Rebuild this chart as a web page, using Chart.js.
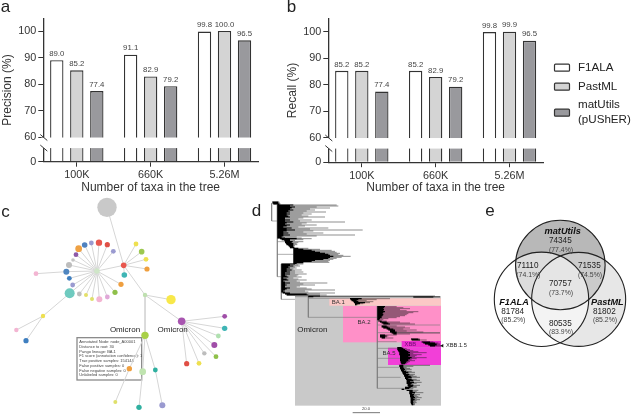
<!DOCTYPE html>
<html>
<head>
<meta charset="utf-8">
<title>Ancestral lineage annotation benchmark</title>
<script src="https://cdn.jsdelivr.net/npm/chart.js@4/dist/chart.umd.js"></script>
<style>
  html, body { margin: 0; padding: 0; background: #fff; }
  #page { position: relative; width: 633px; height: 414px; overflow: hidden; }
  /* the source figure is a soft, low resolution scan */
  canvas { position: absolute; filter: blur(0.3px); }
</style>
</head>
<body>
<div id="page">
  <canvas id="panelA" width="285" height="195" style="left:0;top:0"></canvas>
  <canvas id="panelB" width="348" height="195" style="left:285px;top:0"></canvas>
  <canvas id="panelC" width="240" height="219" style="left:0;top:195px"></canvas>
  <canvas id="panelE" width="183" height="200" style="left:450px;top:200px"></canvas>
  <canvas id="panelD" width="240" height="219" style="left:240px;top:195px"></canvas>
</div>
<script>
const sans = "'Liberation Sans', Arial, sans-serif";
const ink = "#333";

// panels a and b
const taxa = ["100K", "660K", "5.26M"];
const seriesNames = ["F1ALA", "PastML", "matUtils\n(pUShER)"];
const seriesFill = ["#ffffff", "#d4d4d4", "#99999d"];
const precisionF1 = [89.0, 91.1, 99.8];
const precisionPast = [85.2, 82.9, 100.0];
const precisionMat = [77.4, 79.2, 96.5];
const recallF1 = [85.2, 85.2, 99.8];
const recallPast = [85.2, 82.9, 99.9];
const recallMat = [77.4, 79.2, 96.5];
const yTicks = [0, 60, 70, 80, 90, 100];
const breakAt = 60;
const breakBand = [33.5, 59.5];

// panel c: nodes of the lineage graph, parent is an index into the same arrays
const nodeX = [321, 371, 291, 435, 373, 408, 425, 438, 441, 297, 322, 274, 254, 236, 228, 219, 207, 199, 208, 218, 209, 238, 258, 276, 298, 322, 345, 363, 340, 108, 129, 49, 78, 513, 545, 674, 674, 655, 643, 613, 648, 597, 560, 435, 388, 428, 466, 346, 417, 487];
const nodeY = [37, 211, 228, 300, 240, 147, 170, 193, 222, 143, 149, 144, 150, 161, 179, 195, 210, 230, 250, 270, 295, 297, 300, 312, 313, 306, 292, 268, 169, 236, 363, 405, 437, 314, 379, 364, 400, 423, 450, 475, 485, 505, 506, 421, 521, 530, 525, 621, 637, 631];
const nodeParent = [-1, 0, 1, 1, 1, 1, 1, 1, 1, 2, 2, 2, 2, 2, 2, 2, 2, 2, 2, 2, 2, 2, 2, 2, 2, 2, 2, 2, 2, 17, 20, 30, 30, 3, 3, 34, 34, 34, 34, 34, 34, 34, 34, 3, 43, 43, 43, 44, 45, 46];
const nodeRadius = [9.7, 2.8, 2.8, 2.2, 2.8, 2.4, 2.8, 2.4, 2.6, 3.2, 2.6, 2.4, 2.8, 3.4, 2.4, 1.8, 3, 3, 2.4, 2.4, 5, 2.4, 2, 2, 3, 2.4, 2.6, 2.6, 2.4, 2.4, 2.2, 2.2, 2.6, 4.7, 3.8, 2.4, 2.7, 2.4, 3, 2.2, 2.4, 2.4, 2.6, 3.7, 2.7, 3.4, 2.4, 2, 2.7, 3];
const nodeColor = ["#c9c9c9", "#e8574e", "#cfe6c8", "#bfe0b0", "#3fb5b5", "#eee050", "#9cc850", "#eee050", "#ef9f3f", "#e8574e", "#e04f45", "#9a9ad0", "#4f82c0", "#efa144", "#8e5aa8", "#c4c4c4", "#bdbdbd", "#4f86c0", "#3f7fc0", "#9a9ad0", "#6fcabf", "#bdbdbd", "#e4e06a", "#dfe06a", "#f3b5d2", "#e0a8d8", "#8fc04a", "#ef9f3f", "#9a9ad0", "#f3b5d2", "#eee050", "#f3b5d2", "#3f7fc0", "#f8e84a", "#a855b0", "#a04ea8", "#3fb5b5", "#b0e0b0", "#a04ea8", "#bdbdbd", "#8fc04a", "#eee050", "#e04f45", "#a8d048", "#ef9f3f", "#c0e4b0", "#2fb0a0", "#dfe06a", "#2fb0a0", "#9a9ad0"];
const nodeNote = [
  "Annotated Node: node_A00001",
  "Distance to root: 30",
  "Pango lineage: BA.1",
  "F1 score (annotation confidence): 1",
  "True positive samples: 154144",
  "False positive samples: 0",
  "False negative samples: 0",
  "Unlabeled samples: 0"
];

// panel d: tree rows are [y, branch start, end of the dense part, tip]
const treeStub = [[21, 97, 115, 118], [24, 98, 115, 120], [27, 100, 118, 122]];
const treeTop = [[30, 112, 160, 290], [33, 112, 150, 295], [36, 112, 165, 230], [39, 112, 155, 270], [42, 112, 150, 210], [45, 112, 160, 225], [48, 112, 145, 200], [51, 112, 150, 258], [54, 112, 140, 190], [57, 112, 150, 215], [60, 112, 140, 185], [63, 112, 145, 205], [66, 112, 150, 255], [69, 112, 135, 190], [72, 112, 135, 175], [75, 112, 150, 215], [78, 112, 135, 180], [81, 112, 160, 315], [84, 112, 140, 200], [87, 112, 135, 185], [90, 112, 150, 230], [93, 112, 140, 195], [96, 112, 130, 175], [99, 112, 155, 265], [102, 112, 140, 210], [105, 112, 165, 368], [108, 112, 140, 220], [111, 112, 130, 190], [114, 112, 145, 250], [117, 112, 130, 200], [120, 112, 150, 345], [123, 112, 130, 230], [126, 112, 125, 170], [129, 112, 135, 185]];
const treeMid = [[131, 120, 170, 215], [134, 125, 150, 190], [137, 133, 150, 165], [140, 135, 158, 190], [143, 135, 155, 175], [146, 138, 160, 170], [149, 140, 160, 172], [152, 145, 160, 165], [155, 148, 160, 163], [158, 150, 162, 165]];
const treeBig = [[160, 160, 175, 205], [163, 160, 190, 240], [166, 160, 215, 275], [169, 160, 225, 285], [172, 160, 240, 290], [175, 160, 255, 300], [178, 160, 265, 295], [181, 160, 270, 310], [184, 160, 280, 332], [187, 160, 270, 305], [190, 160, 265, 290], [193, 160, 250, 280], [196, 160, 225, 270], [199, 160, 215, 265], [202, 160, 190, 268], [205, 160, 170, 190]];
const treeLow = [[207, 124, 165, 190], [210, 124, 150, 175], [213, 124, 160, 180], [216, 124, 145, 165], [219, 124, 150, 170], [222, 124, 140, 160], [225, 124, 155, 185], [228, 124, 140, 165], [231, 124, 150, 190], [234, 124, 135, 165], [237, 124, 150, 200], [240, 124, 135, 175], [243, 124, 140, 170], [246, 124, 145, 185], [249, 124, 130, 160], [252, 124, 140, 175], [255, 124, 145, 200], [258, 124, 130, 170], [261, 124, 135, 180], [264, 124, 150, 262], [267, 124, 135, 190], [270, 124, 140, 225], [273, 124, 135, 180], [276, 124, 135, 170], [279, 124, 150, 200], [282, 124, 140, 215], [285, 124, 135, 285], [288, 124, 130, 195], [291, 124, 135, 205], [294, 128, 150, 285], [297, 135, 200, 240], [300, 140, 205, 260], [303, 205, 240, 585], [305, 205, 220, 600], [306, 520, 580, 600]];
const treeBA1 = [[311, 330, 365, 450], [314, 332, 355, 410], [317, 335, 350, 380], [320, 340, 355, 400], [323, 342, 375, 390], [326, 345, 360, 370], [329, 345, 350, 355]];
const treeBA2 = [[335, 412, 435, 470], [338, 412, 432, 490], [341, 412, 430, 510], [344, 412, 432, 480], [347, 412, 430, 500], [350, 412, 435, 535], [353, 412, 430, 520], [356, 412, 428, 505], [359, 412, 430, 500], [362, 412, 428, 495], [365, 412, 425, 480], [368, 412, 425, 470], [371, 412, 420, 445], [374, 412, 418, 430], [378, 415, 425, 440], [381, 420, 440, 480], [384, 425, 445, 510], [387, 430, 450, 525], [393, 425, 440, 470], [396, 425, 445, 495], [399, 430, 450, 510], [402, 440, 460, 490], [405, 445, 465, 530], [408, 450, 465, 500], [411, 450, 470, 550], [414, 455, 470, 600], [417, 460, 470, 510], [420, 420, 435, 470], [423, 420, 440, 445], [426, 420, 435, 440], [429, 425, 435, 460]];
const treeXBB = [[432, 513, 535, 540], [435, 515, 540, 560], [441, 545, 570, 580], [444, 550, 585, 595], [447, 555, 590, 600], [450, 565, 590, 600], [453, 570, 585, 605]];
const treeBA5 = [[458, 472, 485, 490], [461, 472, 490, 500], [464, 472, 495, 510], [467, 474, 500, 520], [470, 476, 505, 535], [473, 478, 510, 560], [476, 478, 505, 520], [479, 478, 510, 545], [482, 480, 510, 530], [485, 480, 505, 525], [488, 480, 515, 560], [491, 480, 510, 530], [494, 480, 505, 515], [497, 480, 505, 525], [500, 482, 500, 510], [503, 482, 498, 505], [506, 484, 495, 500]];
const treeTail = [[511, 478, 490, 570], [514, 478, 490, 520], [517, 480, 490, 500], [520, 480, 492, 510], [523, 482, 495, 515], [526, 483, 492, 500], [529, 485, 498, 515], [532, 487, 505, 525], [535, 488, 498, 505], [538, 490, 508, 525], [541, 492, 505, 520], [544, 493, 512, 530], [547, 495, 515, 540], [550, 495, 505, 515], [553, 498, 515, 530], [556, 500, 520, 540], [559, 500, 510, 520], [562, 500, 522, 545], [565, 500, 515, 530], [568, 503, 512, 520], [571, 503, 520, 540], [574, 505, 518, 530], [577, 495, 512, 530], [580, 495, 508, 520], [583, 485, 492, 500], [586, 500, 518, 535], [590, 508, 518, 530], [593, 508, 525, 550], [596, 508, 516, 525], [599, 510, 522, 540], [602, 510, 520, 530], [605, 510, 522, 535], [608, 512, 525, 545], [611, 512, 520, 530], [614, 512, 524, 540], [617, 512, 520, 530], [620, 512, 519, 527], [623, 512, 520, 530], [626, 513, 519, 525], [629, 515, 520, 525]];
const treeRows = [treeStub, treeTop, treeMid, treeBig, treeLow, treeBA1, treeBA2, treeXBB, treeBA5, treeTail];
// thin connecting branches: [x0, y0, x1, y1]
const treeEdges = [[95, 25, 95, 78], [95, 78, 112, 78], [95, 25, 105, 25], [112, 30, 112, 245], [112, 140, 135, 140], [112, 178, 160, 178], [112, 245, 124, 245], [124, 207, 124, 313], [124, 313, 165, 313], [165, 305, 205, 305], [205, 303, 205, 367], [205, 367, 412, 367], [205, 310, 330, 310], [412, 333, 412, 580], [412, 390, 600, 390], [412, 413, 600, 413], [412, 440, 470, 440], [412, 460, 475, 460], [412, 490, 480, 490], [412, 517, 480, 517], [412, 547, 482, 547], [412, 580, 495, 580], [600, 452, 607, 452]];
// shaded clades: [x0, y0, x1, y1]
const cladeNames = ["Omicron", "BA.1", "BA.2", "BA.5", "XBB"];
const cladeBoxes = [[165, 303, 603, 632], [268, 310, 603, 332], [309, 333, 603, 442], [444, 458, 603, 510], [485, 438, 603, 458]];
const cladeFill = ["#c9c9c9", "#fcc8c6", "#ff90c8", "#f23fd8", "#ee2fd0"];

// panel e: circle centres of the Venn diagram
const vennNames = ["matUtils", "F1ALA", "PastML"];
const vennX = [331, 274.5, 386];
const vennY = [195, 298, 298];
const vennR = [44.8, 47.2, 47];
const vennFill = ["#b8b8b8", "rgba(255,255,255,0.5)", "rgba(215,215,215,0.6)"];
const vennCounts = [
  ["74345", "(77.4%)", 331, 123, 149],
  ["71110", "(74.1%)", 233, 197, 224],
  ["71535", "(74.5%)", 418, 197, 224],
  ["70757", "(73.7%)", 331, 252, 279],
  ["81784", "(85.2%)", 188, 335, 361],
  ["81802", "(85.2%)", 463, 335, 361],
  ["80535", "(83.9%)", 331, 371, 397]
];

// y axis with a squeezed stretch under the break
class BrokenScale extends Chart.LinearScale {
  getPixelForValue(value) {
    const lowShare = 0.17;
    const d = value <= breakAt
      ? (value / breakAt) * lowShare
      : lowShare + ((value - breakAt) / (this.max - breakAt)) * (1 - lowShare);
    return this.getPixelForDecimal(d);
  }
}
BrokenScale.id = "broken";
BrokenScale.defaults = Chart.LinearScale.defaults;

// categories sit a bit wider apart than the plain category scale puts them
class TaxaScale extends Chart.CategoryScale {
  getPixelForValue(value) {
    if (typeof value !== "number") value = this.parse(value);
    const edge = 0.156;
    return this.getPixelForDecimal(edge + (value * (1 - 2 * edge)) / (taxa.length - 1));
  }
}
TaxaScale.id = "taxa";
TaxaScale.defaults = Chart.CategoryScale.defaults;
Chart.register(BrokenScale, TaxaScale);

Chart.defaults.font.family = sans;
Chart.defaults.animation = false;
Chart.defaults.events = [];
Chart.defaults.plugins.legend.display = false;
Chart.defaults.plugins.tooltip.enabled = false;

function text(ctx, str, x, y, size, color, opts) {
  const o = opts || {};
  ctx.save();
  ctx.font = (o.style || "") + " " + size + "px " + sans;
  ctx.fillStyle = color;
  ctx.textAlign = o.align || "center";
  ctx.textBaseline = "middle";
  ctx.fillText(str, x, y);
  ctx.restore();
}

function panelLetter(letter, x, y) {
  return {
    id: "letter",
    afterDraw(chart) { text(chart.ctx, letter, x, y, 17, "#222"); }
  };
}

const barMarks = {
  id: "barMarks",
  afterDatasetsDraw(chart) {
    const ctx = chart.ctx, y = chart.scales.y, area = chart.chartArea;
    // blank the axis and the bars across the break
    const top = y.getPixelForValue(breakBand[1]), bottom = y.getPixelForValue(breakBand[0]);
    ctx.save();
    ctx.fillStyle = "#fff";
    ctx.fillRect(area.left - 2, top, area.right - area.left + 2, bottom - top);
    ctx.strokeStyle = ink;
    ctx.lineWidth = 1;
    [top, bottom].forEach((py) => {
      ctx.beginPath();
      ctx.moveTo(area.left - 3, py - 3);
      ctx.lineTo(area.left + 4, py + 3);
      ctx.stroke();
    });
    ctx.restore();
    chart.data.datasets.forEach((ds, i) => {
      chart.getDatasetMeta(i).data.forEach((bar, j) => {
        text(ctx, ds.data[j].toFixed(1), bar.x, bar.y - 6.5, 7.8, "#444");
      });
    });
  }
};

const barLegend = {
  id: "barLegend",
  afterDraw(chart) {
    const ctx = chart.ctx;
    const rows = [67.7, 86.7, 112.7];
    chart.data.datasets.forEach((ds, i) => {
      ctx.save();
      ctx.fillStyle = ds.backgroundColor;
      ctx.strokeStyle = ink;
      ctx.lineWidth = 1.2;
      ctx.beginPath();
      ctx.roundRect(269.5, rows[i] - 3.5, 15, 7, 1);
      ctx.fill();
      ctx.stroke();
      ctx.restore();
      const lines = seriesNames[i].split("\n");
      lines.forEach((line, k) => {
        const py = rows[i] + (k - (lines.length - 1) / 2) * 15;
        text(ctx, line, 293, py, 11.6, "#222", { align: "left" });
      });
    });
  }
};

function makeBars(id, values, yTitle, letter, extra) {
  return new Chart(document.getElementById(id), {
    type: "bar",
    data: {
      labels: taxa,
      datasets: values.map((v, i) => ({
        label: seriesNames[i],
        data: v,
        backgroundColor: seriesFill[i],
        borderColor: ink,
        borderWidth: 1.3,
        borderSkipped: "bottom",
        categoryPercentage: 0.813,
        barPercentage: 0.667
      }))
    },
    options: {
      responsive: false,
      layout: { padding: { top: 18.3 + (id === "panelB" ? 0.5 : 0), left: 0, bottom: 0, right: document.getElementById(id).width - 258 } },
      scales: {
        x: {
          type: "taxa",
          afterFit(s) { s.height = id === "panelB" ? 32.8 : 33.3; },
          border: { color: ink, width: 1.3 },
          grid: { offset: false, drawOnChartArea: false, color: ink, tickLength: 5 },
          ticks: { color: ink, font: { size: 10.8 }, padding: 2, maxRotation: 0 },
          title: { display: true, text: "Number of taxa in the tree", color: ink, font: { size: 12 }, padding: 0 }
        },
        y: {
          type: "broken",
          min: 0,
          max: 104.8,
          afterFit(s) { s.width = 43.3; },
          afterBuildTicks(s) { s.ticks = yTicks.map((v) => ({ value: v })); },
          border: { color: ink, width: 1.3 },
          grid: { drawOnChartArea: false, color: ink, tickLength: 5 },
          ticks: { color: ink, font: { size: 10.8 }, padding: 2, autoSkip: false },
          title: { display: true, text: yTitle, color: ink, font: { size: 12 }, padding: 0 }
        }
      }
    },
    plugins: [barMarks, letter].concat(extra || [])
  });
}

makeBars("panelA", [precisionF1, precisionPast, precisionMat], "Precision (%)", panelLetter("a", 5.5, 7));
makeBars("panelB", [recallF1, recallPast, recallMat], "Recall (%)", panelLetter("b", 6.5, 7), [barLegend]);

// panels c, d, e share plain hidden axes in the units the values were read in
function hiddenAxes(w, h) {
  return {
    x: { type: "linear", display: false, min: 0, max: w },
    y: { type: "linear", display: false, min: 0, max: h, reverse: true }
  };
}
const noPadding = { autoPadding: false, padding: 0 };

const graphEdges = [];
nodeParent.forEach((p, i) => {
  if (p < 0) return;
  graphEdges.push({ x: nodeX[p], y: nodeY[p] }, { x: nodeX[i], y: nodeY[i] }, { x: null, y: null });
});

new Chart(document.getElementById("panelC"), {
  type: "scatter",
  data: {
    datasets: [
      {
        data: nodeX.map((x, i) => ({ x: x, y: nodeY[i] })),
        pointRadius: nodeRadius,
        pointBackgroundColor: nodeColor,
        pointBorderWidth: 0
      },
      {
        data: graphEdges,
        showLine: true,
        pointRadius: 0,
        borderColor: "#d6d6d6",
        borderWidth: 1
      }
    ]
  },
  options: { responsive: false, layout: noPadding, scales: hiddenAxes(720, 657) },
  plugins: [panelLetter("c", 5.5, 17), {
    id: "graphNotes",
    beforeDatasetsDraw(chart) {
      const ctx = chart.ctx, sx = chart.scales.x, sy = chart.scales.y;
      const x0 = sx.getPixelForValue(231), y0 = sy.getPixelForValue(428);
      const x1 = sx.getPixelForValue(425), y1 = sy.getPixelForValue(555);
      ctx.save();
      ctx.fillStyle = "#fff";
      ctx.strokeStyle = "#8a8a8a";
      ctx.lineWidth = 1.3;
      ctx.fillRect(x0, y0, x1 - x0, y1 - y0);
      ctx.strokeRect(x0, y0, x1 - x0, y1 - y0);
      ctx.restore();
      nodeNote.forEach((line, i) => {
        text(ctx, line, sx.getPixelForValue(238), sy.getPixelForValue(441 + i * 14.3), 4, "#444", { align: "left" });
      });
    },
    afterDatasetsDraw(chart) {
      const ctx = chart.ctx, sx = chart.scales.x, sy = chart.scales.y;
      text(ctx, "Omicron", sx.getPixelForValue(375), sy.getPixelForValue(404), 8, "#222");
      text(ctx, "Omicron", sx.getPixelForValue(518), sy.getPixelForValue(404), 8, "#222");
    }
  }]
});

const tipLines = [], coreLines = [];
treeRows.forEach((rows) => rows.forEach((r) => {
  tipLines.push({ x: r[1], y: r[0] }, { x: r[3], y: r[0] }, { x: null, y: null });
  coreLines.push({ x: r[1], y: r[0] }, { x: r[2], y: r[0] }, { x: null, y: null });
}));
const branchLines = [];
treeEdges.forEach((e) => branchLines.push({ x: e[0], y: e[1] }, { x: e[2], y: e[3] }, { x: null, y: null }));

new Chart(document.getElementById("panelD"), {
  type: "scatter",
  data: {
    datasets: [
      {
        data: [{ x: 607, y: 452 }],
        pointStyle: "triangle",
        rotation: -90,
        pointRadius: 2,
        pointBackgroundColor: "#111",
        pointBorderWidth: 0
      },
      { data: coreLines, showLine: true, pointRadius: 0, borderColor: "#000", borderWidth: 1.2 },
      { data: tipLines, showLine: true, pointRadius: 0, borderColor: "rgba(25,25,25,0.7)", borderWidth: 0.7 },
      { data: branchLines, showLine: true, pointRadius: 0, borderColor: "#777", borderWidth: 0.6 },
      {
        data: [{ x: 338, y: 653 }, { x: 420, y: 653 }],
        showLine: true,
        pointRadius: 0,
        borderColor: "#555",
        borderWidth: 0.8
      }
    ]
  },
  options: { responsive: false, layout: noPadding, scales: hiddenAxes(720, 657) },
  plugins: [panelLetter("d", 16.5, 16), {
    id: "clades",
    beforeDatasetsDraw(chart) {
      const ctx = chart.ctx, sx = chart.scales.x, sy = chart.scales.y;
      cladeBoxes.forEach((b, i) => {
        const x0 = sx.getPixelForValue(b[0]), y0 = sy.getPixelForValue(b[1]);
        ctx.fillStyle = cladeFill[i];
        ctx.fillRect(x0, y0, sx.getPixelForValue(b[2]) - x0, sy.getPixelForValue(b[3]) - y0);
      });
    },
    afterDatasetsDraw(chart) {
      const ctx = chart.ctx, sx = chart.scales.x, sy = chart.scales.y;
      const put = (s, x, y, size, color, align) =>
        text(ctx, s, sx.getPixelForValue(x), sy.getPixelForValue(y), size, color, { align: align });
      put(cladeNames[0], 217, 405, 8, "#222");
      put(cladeNames[1], 295, 322, 6, "#333");
      put(cladeNames[2], 372, 383, 6, "#333");
      put(cladeNames[3], 447, 474, 6, "#333");
      put(cladeNames[4], 511, 448, 5.8, "#6a0f70");
      put("XBB.1.5", 618, 452, 5.7, "#222", "left");
      put("20.0", 378, 642, 4.2, "#444");
    }
  }]
});

new Chart(document.getElementById("panelE"), {
  type: "bubble",
  data: {
    datasets: [
      {
        data: vennX.map((x, i) => ({ x: x, y: vennY[i], r: vennR[i] })),
        backgroundColor: "rgba(0,0,0,0)",
        borderColor: "#222",
        borderWidth: 1.1
      },
      { data: [{ x: vennX[1], y: vennY[1], r: vennR[1] }], backgroundColor: vennFill[1], borderWidth: 0 },
      { data: [{ x: vennX[2], y: vennY[2], r: vennR[2] }], backgroundColor: vennFill[2], borderWidth: 0 },
      { data: [{ x: vennX[0], y: vennY[0], r: vennR[0] }], backgroundColor: vennFill[0], borderWidth: 0 }
    ]
  },
  options: { responsive: false, layout: noPadding, scales: hiddenAxes(549, 600) },
  plugins: [panelLetter("e", 40, 11), {
    id: "vennText",
    afterDatasetsDraw(chart) {
      const ctx = chart.ctx, sx = chart.scales.x, sy = chart.scales.y;
      const put = (s, x, y, size, color, style) =>
        text(ctx, s, sx.getPixelForValue(x), sy.getPixelForValue(y), size, color, { style: style });
      put(vennNames[0], 338, 95, 9.2, "#111", "italic bold");
      put(vennNames[1], 192, 306, 9.2, "#111", "italic bold");
      put(vennNames[2], 472, 306, 9.2, "#111", "italic bold");
      vennCounts.forEach((c) => {
        put(c[0], c[2], c[3], 8.2, "#222");
        put(c[1], c[2] + 2, c[4], 6.9, "#444");
      });
    }
  }]
});
</script>
</body>
</html>
